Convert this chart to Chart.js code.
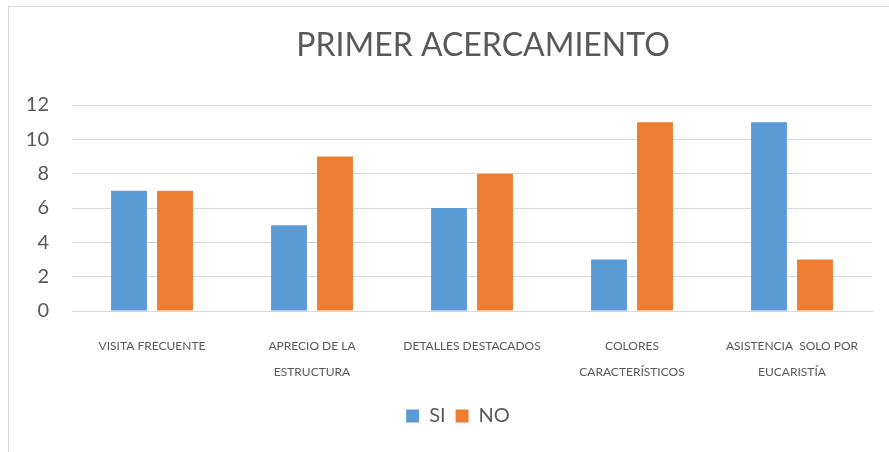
<!DOCTYPE html>
<html>
<head>
<meta charset="utf-8">
<title>Primer acercamiento</title>
<script src="https://cdn.jsdelivr.net/npm/chart.js@4.4.1/dist/chart.umd.min.js"></script>
<style>
    html, body { margin: 0; padding: 0; background: #fff; }
    #wrap { width: 889px; height: 452px; position: relative; }
</style>
</head>
<body>
<div id="wrap"><canvas id="chart"></canvas></div>
<script>
const categories = [
    'VISITA FRECUENTE',
    ['APRECIO DE LA', 'ESTRUCTURA'],
    'DETALLES DESTACADOS',
    ['COLORES', 'CARACTERÍSTICOS'],
    ['ASISTENCIA  SOLO POR', 'EUCARISTÍA']
];
const siValues = [7, 5, 6, 3, 11];
const noValues = [7, 9, 8, 11, 3];
const seriesNames = ['SI', 'NO'];
const chartTitle = 'PRIMER ACERCAMIENTO';

const textColor = '#595959';
const gridColor = '#D9D9D9';
const fontFamily = 'Lato, Carlito, Calibri, sans-serif';

// outer frame + title, drawn by hand so the title can sit off the legend's centre
let framePlugin = {
    id: 'frame',
    afterLayout: function(chart) {
        // nudge the legend a bit to the right, under the plot
        chart.legend.left += 12;
        chart.legend.right += 12;
    },
    beforeDraw: function(chart) {
        let ctx = chart.ctx;
        ctx.save();
        ctx.strokeStyle = gridColor;
        ctx.lineWidth = 1;
        ctx.strokeRect(8.5, 6.5, 1000, 1000);
        ctx.restore();
    },
    afterDraw: function(chart) {
        let ctx = chart.ctx;
        ctx.save();
        ctx.fillStyle = textColor;
        ctx.font = '32px ' + fontFamily;
        ctx.textAlign = 'center';
        ctx.textBaseline = 'alphabetic';
        ctx.fillText(chartTitle, 483, 56);
        ctx.restore();
    }
};

let ctx = document.getElementById('chart').getContext('2d');
let chart = new Chart(ctx, {
    type: 'bar',
    data: {
        labels: categories,
        datasets: [
            {
                label: seriesNames[0],
                data: siValues,
                backgroundColor: '#5B9BD5',
                borderWidth: 0,
            },
            {
                label: seriesNames[1],
                data: noValues,
                backgroundColor: '#ED7D31',
                borderWidth: 0,
            }
        ]
    },
    options: {
        responsive: true,
        maintainAspectRatio: false,
        animation: false,
        categoryPercentage: 0.575,
        barPercentage: 0.78,
        layout: {
            padding: { top: 105, left: 20, right: 17, bottom: 16 }
        },
        plugins: {
            title: { display: false },
            tooltip: { enabled: false },
            legend: {
                position: 'bottom',
                labels: {
                    color: textColor,
                    font: { family: fontFamily, size: 20 },
                    boxWidth: 13,
                    boxHeight: 13,
                    padding: 10,
                }
            }
        },
        scales: {
            x: {
                grid: {
                    display: false,
                    drawTicks: false,
                },
                border: { display: true, color: gridColor, width: 1 },
                ticks: {
                    color: textColor,
                    font: { family: fontFamily, size: 12, lineHeight: 2.17 },
                    padding: 22,
                    maxRotation: 0,
                    autoSkip: false,
                },
                afterFit: function(scale) {
                    scale.height = 85;
                }
            },
            y: {
                min: 0,
                max: 12,
                grid: {
                    color: gridColor,
                    lineWidth: 1,
                    drawTicks: false,
                },
                border: { display: false },
                ticks: {
                    stepSize: 2,
                    color: textColor,
                    font: { family: fontFamily, size: 20 },
                    padding: 23,
                },
                afterFit: function(scale) {
                    scale.width = 52;
                }
            }
        }
    },
    plugins: [framePlugin]
});
</script>
</body>
</html>
